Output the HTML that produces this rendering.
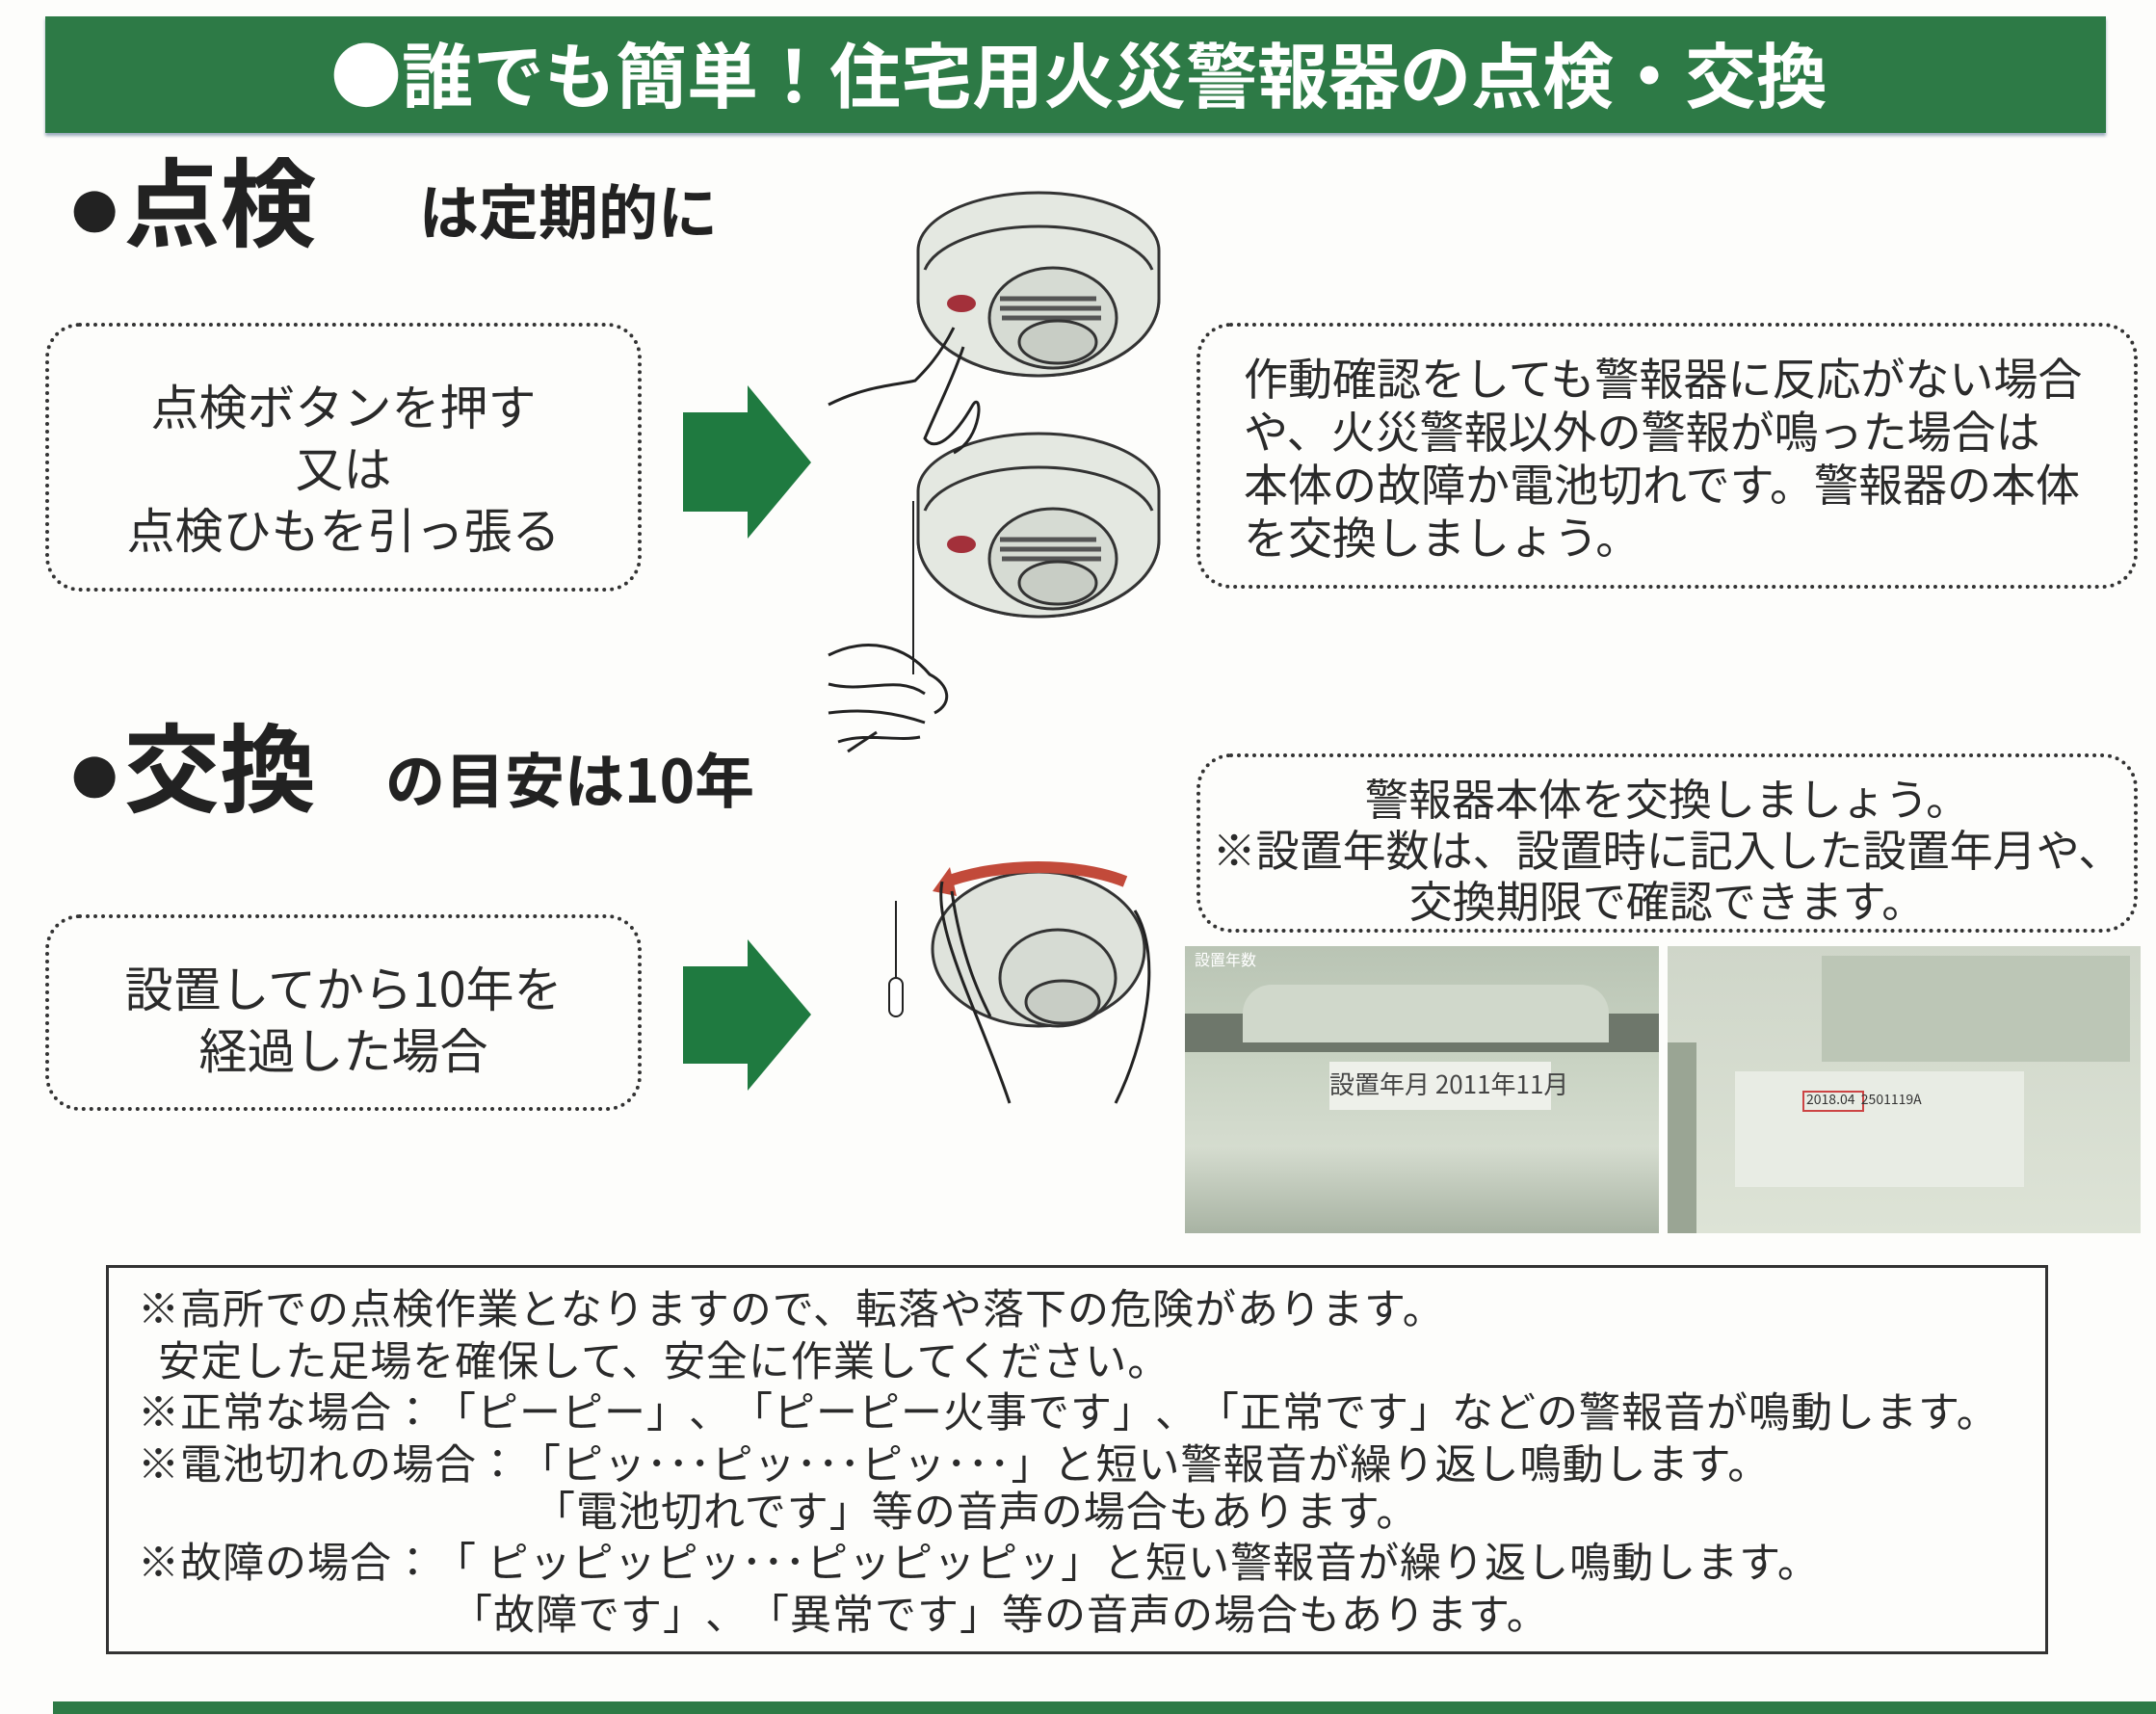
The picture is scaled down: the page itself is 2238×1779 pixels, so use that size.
<!DOCTYPE html>
<html><head><meta charset="utf-8">
<style>
body{margin:0;width:2238px;height:1779px;background:#fdfdfb;position:relative;overflow:hidden;font-family:"Noto Sans CJK JP","Liberation Sans",sans-serif;color:#2a2a2a;text-spacing-trim:space-all}
.a{position:absolute;white-space:pre;line-height:1}
.n{letter-spacing:1px}
.box{position:absolute;border:4px dotted #333;border-radius:36px;box-sizing:border-box}
.b{font-family:"Liberation Sans",sans-serif}
</style></head><body>
<div style="position:absolute;left:47px;top:17px;width:2139px;height:121px;background:#2d7a46;box-shadow:0 3px 3px #9ab"></div>
<div class="a" style="left:343px;top:38px;font-size:74px;color:#fff;font-weight:bold">●誰でも簡単！住宅用火災警報器の点検・交換</div>

<div class="a" style="left:68px;top:155px;font-size:100px;font-weight:bold;color:#222"><span class="b">●</span>点検</div>
<div class="a" style="left:435px;top:185px;font-size:62px;font-weight:bold;color:#222">は定期的に</div>
<div class="a" style="left:68px;top:742px;font-size:100px;font-weight:bold;color:#222"><span class="b">●</span>交換</div>
<div class="a" style="left:400px;top:775px;font-size:62px;font-weight:bold;color:#222">の目安は10年</div>

<div class="box" style="left:47px;top:335px;width:619px;height:279px"></div>
<div class="a" style="left:47px;width:619px;text-align:center;top:388px;font-size:50px;line-height:64px">点検ボタンを押す
又は
点検ひもを引っ張る</div>

<div class="box" style="left:1242px;top:335px;width:977px;height:276px"></div>
<div class="a" style="left:1291px;top:364px;font-size:46px;line-height:55px">作動確認をしても警報器に反応がない場合
や、火災警報以外の警報が鳴った場合は
本体の故障か電池切れです。警報器の本体
を交換しましょう。</div>

<div class="box" style="left:1242px;top:782px;width:977px;height:186px"></div>
<div class="a" style="left:1242px;width:977px;text-align:center;top:800px;font-size:45px;line-height:53px">警報器本体を交換しましょう。
※設置年数は、設置時に記入した設置年月や、
交換期限で確認できます。</div>

<div class="box" style="left:47px;top:949px;width:619px;height:204px"></div>
<div class="a" style="left:47px;width:619px;text-align:center;top:992px;font-size:50px;line-height:64px">設置してから10年を
経過した場合</div>

<svg style="position:absolute;left:0;top:0" width="2238" height="1779">
<polygon points="709,428 776,428 776,400 842,480 776,559 776,531 709,531" fill="#1f7a40"/>
<polygon points="709,1003 776,1003 776,975 842,1053 776,1132 776,1104 709,1104" fill="#1f7a40"/>
<defs>
<g id="det">
<ellipse cx="0" cy="70" rx="125" ry="80" fill="#dfe3dc" stroke="#333" stroke-width="3"/>
<path d="M-125,20 A125,60 0 0 1 125,20 L125,70 A125,80 0 0 1 -125,70 Z" fill="#e4e8e1" stroke="#333" stroke-width="3"/>
<path d="M-118,40 A120,55 0 0 1 118,40" fill="none" stroke="#333" stroke-width="3"/>
<ellipse cx="15" cy="90" rx="66" ry="52" fill="#d6dbd3" stroke="#333" stroke-width="3"/>
<path d="M-40,70 H60 M-40,80 H65 M-38,90 H65" stroke="#555" stroke-width="5"/>
<ellipse cx="20" cy="115" rx="40" ry="22" fill="#c8cdc5" stroke="#333" stroke-width="3"/>
<ellipse cx="-80" cy="75" rx="15" ry="9" fill="#a3303a"/>
</g>
</defs>
<use href="#det" transform="translate(1078,240)"/>
<use href="#det" transform="translate(1078,490)"/>
<path d="M990,340 C975,370 960,385 950,395 C930,400 900,400 860,420 M1000,360 C990,390 975,420 960,455 C970,470 990,455 1010,420 C1020,405 1020,455 990,470" fill="none" stroke="#222" stroke-width="3"/>
<path d="M948,520 V700" stroke="#222" stroke-width="2"/>
<path d="M860,680 C900,660 940,670 965,700 C985,710 990,730 970,740 M860,710 C900,720 930,700 960,720 M860,740 C900,735 930,740 960,750 M870,770 C900,760 930,770 955,765 M880,780 L910,760" fill="none" stroke="#222" stroke-width="3"/>
<g transform="translate(1078,935)">
<ellipse cx="0" cy="50" rx="110" ry="80" fill="#dfe3dc" stroke="#333" stroke-width="3"/>
<ellipse cx="20" cy="80" rx="60" ry="50" fill="#d6dbd3" stroke="#333" stroke-width="3"/>
<ellipse cx="25" cy="105" rx="38" ry="22" fill="#c8cdc5" stroke="#333" stroke-width="3"/>
<path d="M-95,-20 C-40,-40 40,-40 90,-20" fill="none" stroke="#c24a3a" stroke-width="12"/>
<path d="M-110,-10 L-92,-35 L-85,-5 Z" fill="#c24a3a"/>
<path d="M-100,-20 C-110,30 -60,120 -30,210 M100,10 C130,60 110,150 80,210 M-90,-10 C-80,60 -60,100 -50,120" fill="none" stroke="#222" stroke-width="3"/>
<path d="M-148,0 V80" stroke="#222" stroke-width="2"/>
<rect x="-155" y="80" width="14" height="40" rx="7" fill="#fff" stroke="#222" stroke-width="2"/>
</g>
</svg>

<div style="position:absolute;left:1230px;top:982px;width:492px;height:298px;background:linear-gradient(#b9c4b4,#c9d3c3 40%,#d5dccf 70%,#a8b3a3);overflow:hidden">
<div style="position:absolute;left:0;top:70px;width:492px;height:40px;background:#6e776b"></div>
<div style="position:absolute;left:60px;top:40px;width:380px;height:60px;background:#d0d8cb;border-radius:30px 30px 0 0"></div>
<div style="position:absolute;left:150px;top:120px;width:230px;height:50px;background:#eef0ea"></div>
<div class="a" style="left:150px;top:130px;font-size:26px;color:#444">設置年月 2011年11月</div>
<div class="a" style="left:10px;top:5px;font-size:16px;color:#fff">設置年数</div>
</div>
<div style="position:absolute;left:1731px;top:982px;width:491px;height:298px;background:linear-gradient(#cfd6c9,#dde3d6);overflow:hidden">
<div style="position:absolute;left:160px;top:10px;width:320px;height:110px;background:#bcc6b6"></div>
<div style="position:absolute;left:70px;top:130px;width:300px;height:120px;background:#e8ece4"></div>
<div style="position:absolute;left:140px;top:150px;width:60px;height:18px;border:2px solid #c44"></div>
<div class="a" style="left:144px;top:152px;font-size:14px;color:#333">2018.04  2501119A</div>
<div style="position:absolute;left:0;top:100px;width:30px;height:198px;background:#9aa594"></div>
</div>

<div style="position:absolute;left:110px;top:1313px;width:2016px;height:404px;border:3px solid #333;box-sizing:border-box"></div>
<div class="a n" style="left:143px;top:1330px;font-size:43px;line-height:53.5px">※高所での点検作業となりますので、転落や落下の危険があります。
  安定した足場を確保して、安全に作業してください。
※正常な場合：「ピーピー」、「ピーピー火事です」、「正常です」などの警報音が鳴動します。
※電池切れの場合：「ピッ･･･ピッ･･･ピッ･･･」と短い警報音が繰り返し鳴動します。</div>
<div class="a n" style="left:554px;top:1545px;font-size:43px">「電池切れです」等の音声の場合もあります。</div>
<div class="a n" style="left:143px;top:1598px;font-size:43px">※故障の場合：「 ピッピッピッ･･･ピッピッピッ」と短い警報音が繰り返し鳴動します。</div>
<div class="a n" style="left:468px;top:1652px;font-size:43px">「故障です」、「異常です」等の音声の場合もあります。</div>

<div style="position:absolute;left:55px;top:1766px;width:2183px;height:13px;background:#2d7a46"></div>
</body></html>
